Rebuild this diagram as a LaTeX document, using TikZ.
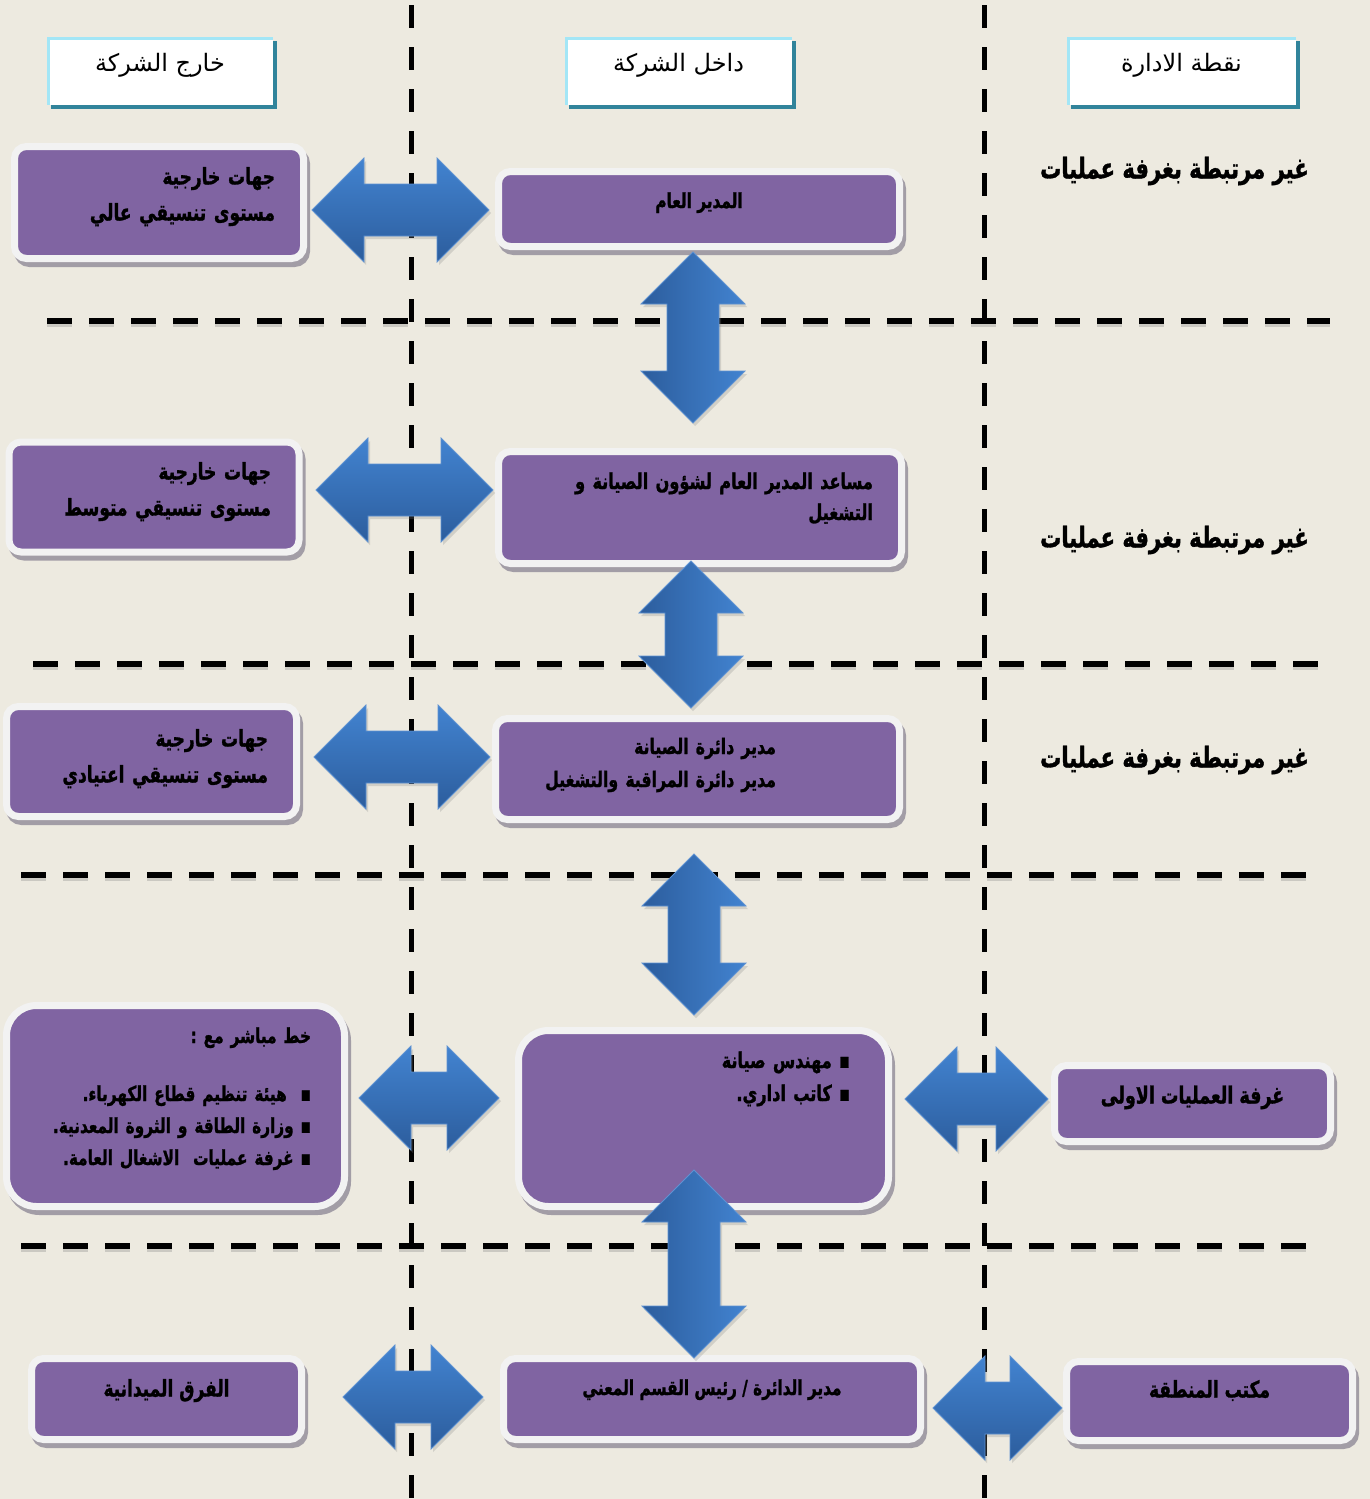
\documentclass[tikz,border=0pt]{standalone}
\usepackage{fontspec}
\newfontfamily\arabicfont[Script=Arabic,BoldFeatures={FakeStretch=0.74,FakeBold=1.2}]{DejaVu Sans}
\TeXXeTstate=1
\usetikzlibrary{calc,shadows}

\definecolor{paper}{HTML}{EDEAE0}
\definecolor{boxfill}{HTML}{8064A2}
\definecolor{boxrim}{HTML}{F2F2F2}
\definecolor{boxshade}{HTML}{A29DA6}
\definecolor{arrowlight}{HTML}{4283D0}
\definecolor{arrowdark}{HTML}{2C5D9D}
\definecolor{arrowedge}{HTML}{5E92D2}
\definecolor{headrim}{HTML}{A3E6F6}
\definecolor{headshade}{HTML}{31849B}

\tikzset{
  pbox/.style={draw=boxrim,line width=7pt,fill=boxfill,rounded corners=12pt,
    outer sep=0pt,inner sep=0pt,align=right,
    font=\arabicfont\bfseries\fontsize{23}{36}\selectfont,
    drop shadow={shadow xshift=3pt,shadow yshift=-5pt,fill=boxshade,
      draw=boxshade,line width=7pt,opacity=1}},
  lift/.style 2 args={text height=#1,text depth=#2},
  headbox/.style={fill=white,minimum width=226pt,minimum height=68pt,
    outer sep=0pt,inner sep=0pt,lift={18pt}{18pt},
    font=\arabicfont\fontsize{24}{28}\selectfont,
    path picture={\draw[headrim,line width=6pt]
      (path picture bounding box.south west) -- (path picture bounding box.north west)
      -- (path picture bounding box.north east);},
    drop shadow={shadow xshift=4pt,shadow yshift=-4pt,fill=headshade,opacity=1}},
  note/.style={anchor=east,inner sep=0pt,
    font=\arabicfont\bfseries\fontsize{28.5}{32}\selectfont},
  vsep/.style={line width=5pt,dash pattern=on 23pt off 19pt,dash phase=37pt},
  hsep/.style={line width=6pt,dash pattern=on 25pt off 17pt,
    preaction={draw=black!45,opacity=.35,line width=6pt,dash pattern=on 25pt off 17pt,
      transform canvas={yshift=-3pt}}},
  hshade/.style={top color=arrowlight,bottom color=arrowdark,draw=arrowedge,line width=.8pt,
    drop shadow={shadow xshift=2pt,shadow yshift=-3pt,opacity=.25}},
  vshade/.style={left color=arrowdark,right color=arrowlight,draw=arrowedge,line width=.8pt,
    drop shadow={shadow xshift=2pt,shadow yshift=-3pt,opacity=.25}},
  % fat double arrows, #1 = gap at start, #2 = gap at end
  harrow/.style 2 args={hshade,to path={let \p1=(\tikztostart), \p2=(\tikztotarget) in
    ({\x1+(#1)},\y1) -- ({\x1+(#1)+52pt},{\y1+52pt}) -- ({\x1+(#1)+52pt},{\y1+26pt})
    -- ({\x2-(#2)-52pt},{\y1+26pt}) -- ({\x2-(#2)-52pt},{\y1+52pt}) -- ({\x2-(#2)},\y1)
    -- ({\x2-(#2)-52pt},{\y1-52pt}) -- ({\x2-(#2)-52pt},{\y1-26pt})
    -- ({\x1+(#1)+52pt},{\y1-26pt}) -- ({\x1+(#1)+52pt},{\y1-52pt}) -- cycle}},
  varrow/.style 2 args={vshade,to path={let \p1=(\tikztostart), \p2=(\tikztotarget) in
    (\x1,{\y1-(#1)}) -- ({\x1+52pt},{\y1-(#1)-52pt}) -- ({\x1+26pt},{\y1-(#1)-52pt})
    -- ({\x1+26pt},{\y2+(#2)+52pt}) -- ({\x1+52pt},{\y2+(#2)+52pt}) -- (\x1,{\y2+(#2)})
    -- ({\x1-52pt},{\y2+(#2)+52pt}) -- ({\x1-26pt},{\y2+(#2)+52pt})
    -- ({\x1-26pt},{\y1-(#1)-52pt}) -- ({\x1-52pt},{\y1-(#1)-52pt}) -- cycle}}
}

\begin{document}
\begin{tikzpicture}[x=1pt,y=-1pt]

  \useasboundingbox[fill=paper] (0,0) rectangle (1370,1499);

  % column and level separators
  \draw[vsep] (411,0) -- (411,1499);
  \draw[vsep] (984,0) -- (984,1499);
  \draw[hsep] (47,321) -- (1330,321);
  \draw[hsep] (33,664) -- (1318,664);
  \draw[hsep] (21,875) -- (1306,875);
  \draw[hsep] (21,1246) -- (1306,1246);

  % column headings
  \node[headbox] (hout) at (160,71) {\beginR خارج الشركة\endR};
  \node[headbox,minimum width=227pt] (hin) at (678.5,71) {\beginR داخل الشركة\endR};
  \node[headbox,minimum width=229pt] (hman) at (1181.5,71) {\beginR نقطة الادارة\endR};

  \node[note] (n1) at (1309,171) {\beginR غير مرتبطة بغرفة عمليات\endR};
  \node[note] (n2) at (1309,540) {\beginR غير مرتبطة بغرفة عمليات\endR};
  \node[note] (n3) at (1309,760) {\beginR غير مرتبطة بغرفة عمليات\endR};

  % outside the company
  \node[pbox,minimum width=289pt,minimum height=112pt,text width=232pt,lift={17pt}{53pt}] (ext1) at (159,202.5)
    {\beginR جهات خارجية\endR\\\beginR مستوى تنسيقي عالي\endR};
  \node[pbox,minimum width=290pt,minimum height=110pt,text width=234pt,lift={17pt}{52pt}] (ext2) at (154,497)
    {\beginR جهات خارجية\endR\\\beginR مستوى تنسيقي متوسط\endR};
  \node[pbox,minimum width=290pt,minimum height=110pt,text width=233pt,lift={17pt}{47pt}] (ext3) at (151.5,761.5)
    {\beginR جهات خارجية\endR\\\beginR مستوى تنسيقي اعتيادي\endR};
  \node[pbox,minimum width=338pt,minimum height=201pt,text width=271pt,lift={15pt}{141pt},
        rounded corners=30pt,font=\arabicfont\bfseries\fontsize{20.7}{32}\selectfont] (ext4) at (175.5,1106)
    {\beginR خط مباشر مع :\endR\\[26pt]
     \beginR ▪\ \ هيئة تنظيم قطاع الكهرباء.\endR\\
     \beginR ▪ وزارة الطاقة و الثروة المعدنية.\endR\\
     \beginR ▪ غرفة عمليات\ \ الاشغال العامة.\endR};
  \node[pbox,minimum width=270pt,minimum height=81pt,lift={17pt}{22pt}] (fld) at (166.5,1399)
    {\beginR الفرق الميدانية\endR};

  % inside the company
  \node[pbox,minimum width=401pt,minimum height=75pt,lift={15pt}{17pt},
        font=\arabicfont\bfseries\fontsize{20.7}{24}\selectfont] (gm) at (699,209)
    {\beginR المدير العام\endR};
  \node[pbox,minimum width=403pt,minimum height=112pt,text width=346pt,lift={16pt}{53pt},
        font=\arabicfont\bfseries\fontsize{21.8}{31}\selectfont] (agm) at (700,507.5)
    {\beginR مساعد المدير العام لشؤون الصيانة و\endR\\\beginR التشغيل\endR};
  \node[pbox,minimum width=404pt,minimum height=101pt,text width=310pt,lift={16pt}{46pt},
        font=\arabicfont\bfseries\fontsize{21.3}{33}\selectfont] (dirs) at (697.5,769)
    {\beginR مدير دائرة الصيانة\endR\kern76.5pt\\
     \beginR مدير دائرة المراقبة والتشغيل\endR\kern76.5pt};
  \node[pbox,minimum width=370pt,minimum height=176pt,text width=293pt,lift={16pt}{117pt},
        rounded corners=30pt,font=\arabicfont\bfseries\fontsize{21.8}{33}\selectfont] (eng) at (703.5,1118.5)
    {\beginR ▪ مهندس صيانة\endR\\\beginR ▪ كاتب اداري.\endR};
  \node[pbox,minimum width=417pt,minimum height=81pt,lift={15pt}{23pt},
        font=\arabicfont\bfseries\fontsize{20.7}{24}\selectfont] (head) at (712,1399)
    {\beginR مدير الدائرة / رئيس القسم المعني\endR};

  % management point
  \node[pbox,minimum width=276pt,minimum height=76pt,lift={17pt}{17pt},
        font=\arabicfont\bfseries\fontsize{23.6}{28}\selectfont] (ops) at (1192.5,1103.5)
    {\beginR غرفة العمليات الاولى\endR};
  \node[pbox,minimum width=286pt,minimum height=79pt,lift={17pt}{24pt}] (area) at (1209.5,1401)
    {\beginR مكتب المنطقة\endR};

  % coordination arrows
  \path[harrow={8.5pt}{9.5pt}] ([yshift=-7.5pt]ext1.east) to (gm.west);
  \path[varrow={5.5pt}{28.5pt}] ([xshift=-6pt]gm.south) to (agm.north);
  \path[harrow={17pt}{5.5pt}] ([yshift=7pt]ext2.east) to (agm.west);
  \path[varrow={-2.5pt}{10.5pt}] ([xshift=-9pt]agm.south) to (dirs.north);
  \path[harrow={17.5pt}{5.5pt}] ([yshift=4.5pt]ext3.east) to (dirs.west);
  \path[varrow={34.5pt}{15.5pt}] ([xshift=-3.5pt]dirs.south) to (eng.north);
  \path[harrow={14.5pt}{19.5pt}] ([yshift=8pt]ext4.east) to (eng.west);
  \path[harrow={16.5pt}{6.5pt}] ([yshift=19.5pt]eng.east) to (ops.west);
  \path[varrow={-36.5pt}{.5pt}] ([xshift=-9.5pt]eng.south) to (head.north);
  \path[harrow={41.5pt}{20.5pt}] ([yshift=2pt]fld.east) to (head.west);
  \path[harrow={12.5pt}{4.5pt}] ([yshift=-9pt]head.east) to (area.west);

\end{tikzpicture}
\end{document}
